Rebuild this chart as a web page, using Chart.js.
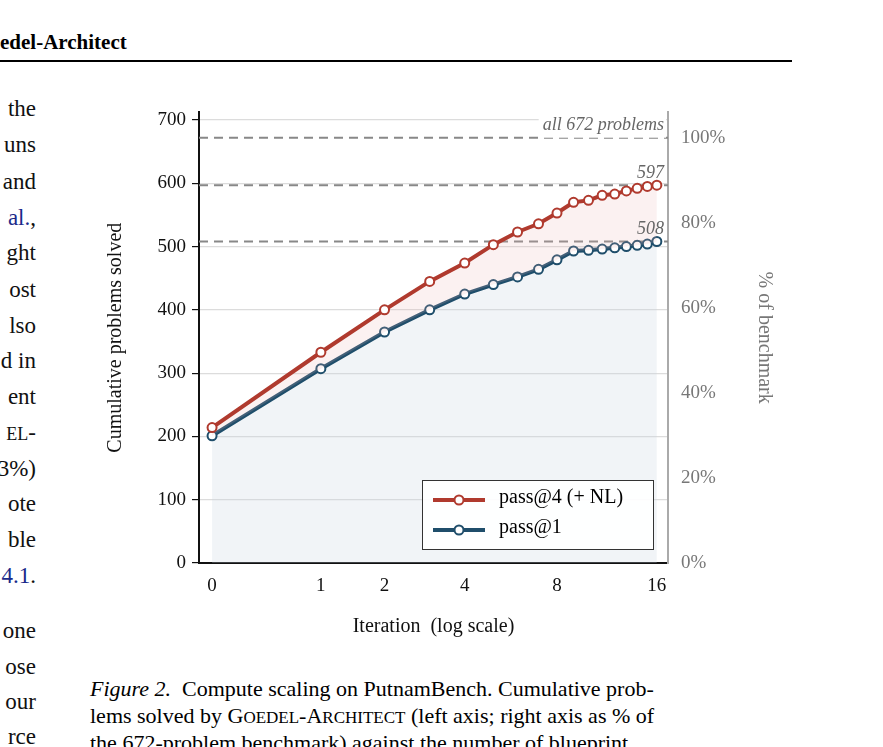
<!DOCTYPE html>
<html><head><meta charset="utf-8">
<script src="https://cdn.jsdelivr.net/npm/chart.js@4"></script>
<style>
body{margin:0;width:883px;height:747px;overflow:hidden;background:#fff;font-family:"Liberation Serif",serif;position:relative}
.a{position:absolute;white-space:nowrap}
.lt{position:absolute;right:847px;font-size:23px;color:#111}
.sc{font-size:18px}
.bl{color:#1a2a8a}
</style></head><body>
<div class="a" style="left:0;top:30px;font-size:21px;font-weight:bold">edel-Architect</div>
<div class="a" style="left:0;top:60px;width:792px;height:2px;background:#000"></div>
<div id="lc"></div>
<div class="a" style="left:90px;top:676px;font-size:22px">
<div><i>Figure 2.</i>&nbsp; Compute scaling on PutnamBench. Cumulative prob-</div>
<div style="margin-top:1px">lems solved by G<span style="font-size:17px">OEDEL</span>-A<span style="font-size:17px">RCHITECT</span> (left axis; right axis as % of</div>
<div style="margin-top:1px">the 672-problem benchmark) against the number of blueprint</div>
</div>
<canvas id="c" style="position:absolute;left:100px;top:95px;width:680px;height:548px"></canvas>
<div class="a" style="left:422px;top:480px;width:230px;height:68px;border:1.5px solid #333;background:rgba(255,255,255,0.92);font-size:20px">
<div style="position:absolute;left:8px;top:8px"><svg width="56" height="14"><line x1="2" y1="7" x2="54" y2="7" stroke="#b03a2e" stroke-width="4"/><circle cx="28" cy="7" r="4.5" fill="#fff" stroke="#b03a2e" stroke-width="2"/></svg></div>
<div style="position:absolute;left:76px;top:4px">pass@4 (+ NL)</div>
<div style="position:absolute;left:8px;top:38px"><svg width="56" height="14"><line x1="2" y1="7" x2="54" y2="7" stroke="#1f4e6b" stroke-width="4"/><circle cx="28" cy="7" r="4.5" fill="#fff" stroke="#1f4e6b" stroke-width="2"/></svg></div>
<div style="position:absolute;left:76px;top:34px">pass@1</div>
</div>
<script>
const leftLines=[["the",96],["uns",132],["and",169],['<span class="bl">al.</span>,',205],["ght",240],["ost",277],["lso",313],["d in",348],["ent",384],['<span class="sc">EL</span>-',420],["3%)",456],["ote",491],["ble",527],['<span class="bl">4.1</span>.',563],["one",618],["ose",654],["our",689],["rce",724]];
document.getElementById('lc').innerHTML=leftLines.map(l=>`<div class="lt" style="top:${l[1]}px">${l[0]}</div>`).join('');

const iterations=[0,1,2,3,4,5,6,7,8,9,10,11,12,13,14,15,16];
const pass4=[214,333,400,445,474,503,523,536,553,570,573,581,583,588,592,595,597];
const pass1=[201,307,365,400,425,440,452,464,479,493,494,496,498,500,502,504,508];
const xTickIters=[0,1,2,4,8,16];
const yTicks=[0,100,200,300,400,500,600,700];
const pctTicks=[0,20,40,60,80,100];
const TOTAL=672;
const refLines=[[TOTAL,'all 672 problems'],[597,'597'],[508,'508']];
const lx=v=>Math.log2(v+1);
const pts=a=>iterations.map((it,i)=>({x:lx(it),y:a[i]}));
const serif='"Liberation Serif", serif';

const refPlugin={id:'ref',beforeDatasetsDraw(ch){
 const {ctx,chartArea:ca,scales:{y}}=ch;
 ctx.save();ctx.strokeStyle='#888';ctx.lineWidth=2;ctx.setLineDash([9,6]);
 refLines.forEach(([v,t])=>{const py=y.getPixelForValue(v);ctx.beginPath();ctx.moveTo(ca.left,py);ctx.lineTo(ca.right,py);ctx.stroke();});
 ctx.restore();
},afterDatasetsDraw(ch){
 const {ctx,chartArea:ca,scales:{y}}=ch;
 ctx.save();ctx.font='italic 18px '+serif;ctx.fillStyle='#666';ctx.textAlign='right';ctx.textBaseline='bottom';
 refLines.forEach(([v,t],i)=>{const py=y.getPixelForValue(v);
  if(i==0){const w=ctx.measureText(t).width;ctx.fillStyle='#fff';ctx.fillRect(ca.right-w-8,py-20,w+6,20);ctx.fillStyle='#666';}
  ctx.fillText(t,ca.right-4,py-3);});
 ctx.restore();
}};

new Chart(document.getElementById('c'),{type:'line',
data:{datasets:[
 {data:pts(pass1),borderColor:'#1f4e6b',backgroundColor:'rgba(200,212,222,0.25)',fill:'origin',borderWidth:4,pointRadius:4.5,pointBorderWidth:2,pointBackgroundColor:'#fff',pointBorderColor:'#1f4e6b',tension:0,order:2},
 {data:pts(pass4),borderColor:'#b03a2e',backgroundColor:'rgba(235,180,175,0.18)',fill:'-1',borderWidth:4,pointRadius:4.5,pointBorderWidth:2,pointBackgroundColor:'#fff',pointBorderColor:'#b03a2e',tension:0,order:1}
]},
options:{responsive:false,animation:false,devicePixelRatio:1,
 layout:{padding:{top:17,left:0,right:0,bottom:0}},
 plugins:{legend:{display:false},tooltip:{enabled:false}},
 scales:{
  x:{type:'linear',min:-0.12,max:4.19,afterFit(s){s.height=80},
   afterBuildTicks(s){s.ticks=xTickIters.map(v=>({value:lx(v)}))},
   ticks:{callback:(v)=>{const i=xTickIters.find(t=>Math.abs(lx(t)-v)<1e-6);return i===undefined?'':String(i)},color:'#111',font:{family:serif,size:19},padding:6},
   grid:{display:false,drawTicks:true,tickLength:6,tickColor:'#111'},border:{color:'#111',width:2},
   title:{display:true,text:'Iteration  (log scale)',color:'#111',font:{family:serif,size:20},padding:{top:6}}},
  y:{min:0,max:712,afterFit(s){s.width=99},
   afterBuildTicks(s){s.ticks=yTicks.map(v=>({value:v}))},
   ticks:{color:'#111',font:{family:serif,size:19},padding:6},
   grid:{color:'#dcdcdc',lineWidth:1.2,tickLength:7,tickColor:'#111'},border:{color:'#111',width:2},
   title:{display:true,text:'Cumulative problems solved',color:'#111',font:{family:serif,size:20},padding:{bottom:4}}},
  y2:{position:'right',min:0,max:712/TOTAL*100,afterFit(s){s.width=112},
   afterBuildTicks(s){s.ticks=pctTicks.map(v=>({value:v}))},
   ticks:{callback:v=>v+'%',color:'#777',font:{family:serif,size:19},padding:6},
   grid:{display:false,drawOnChartArea:false,tickLength:7,tickColor:'#999'},border:{color:'#aaa',width:2},
   title:{display:true,text:'% of benchmark',color:'#777',font:{family:serif,size:20},padding:{top:4}}}
 }},
plugins:[refPlugin]});
</script></body></html>
